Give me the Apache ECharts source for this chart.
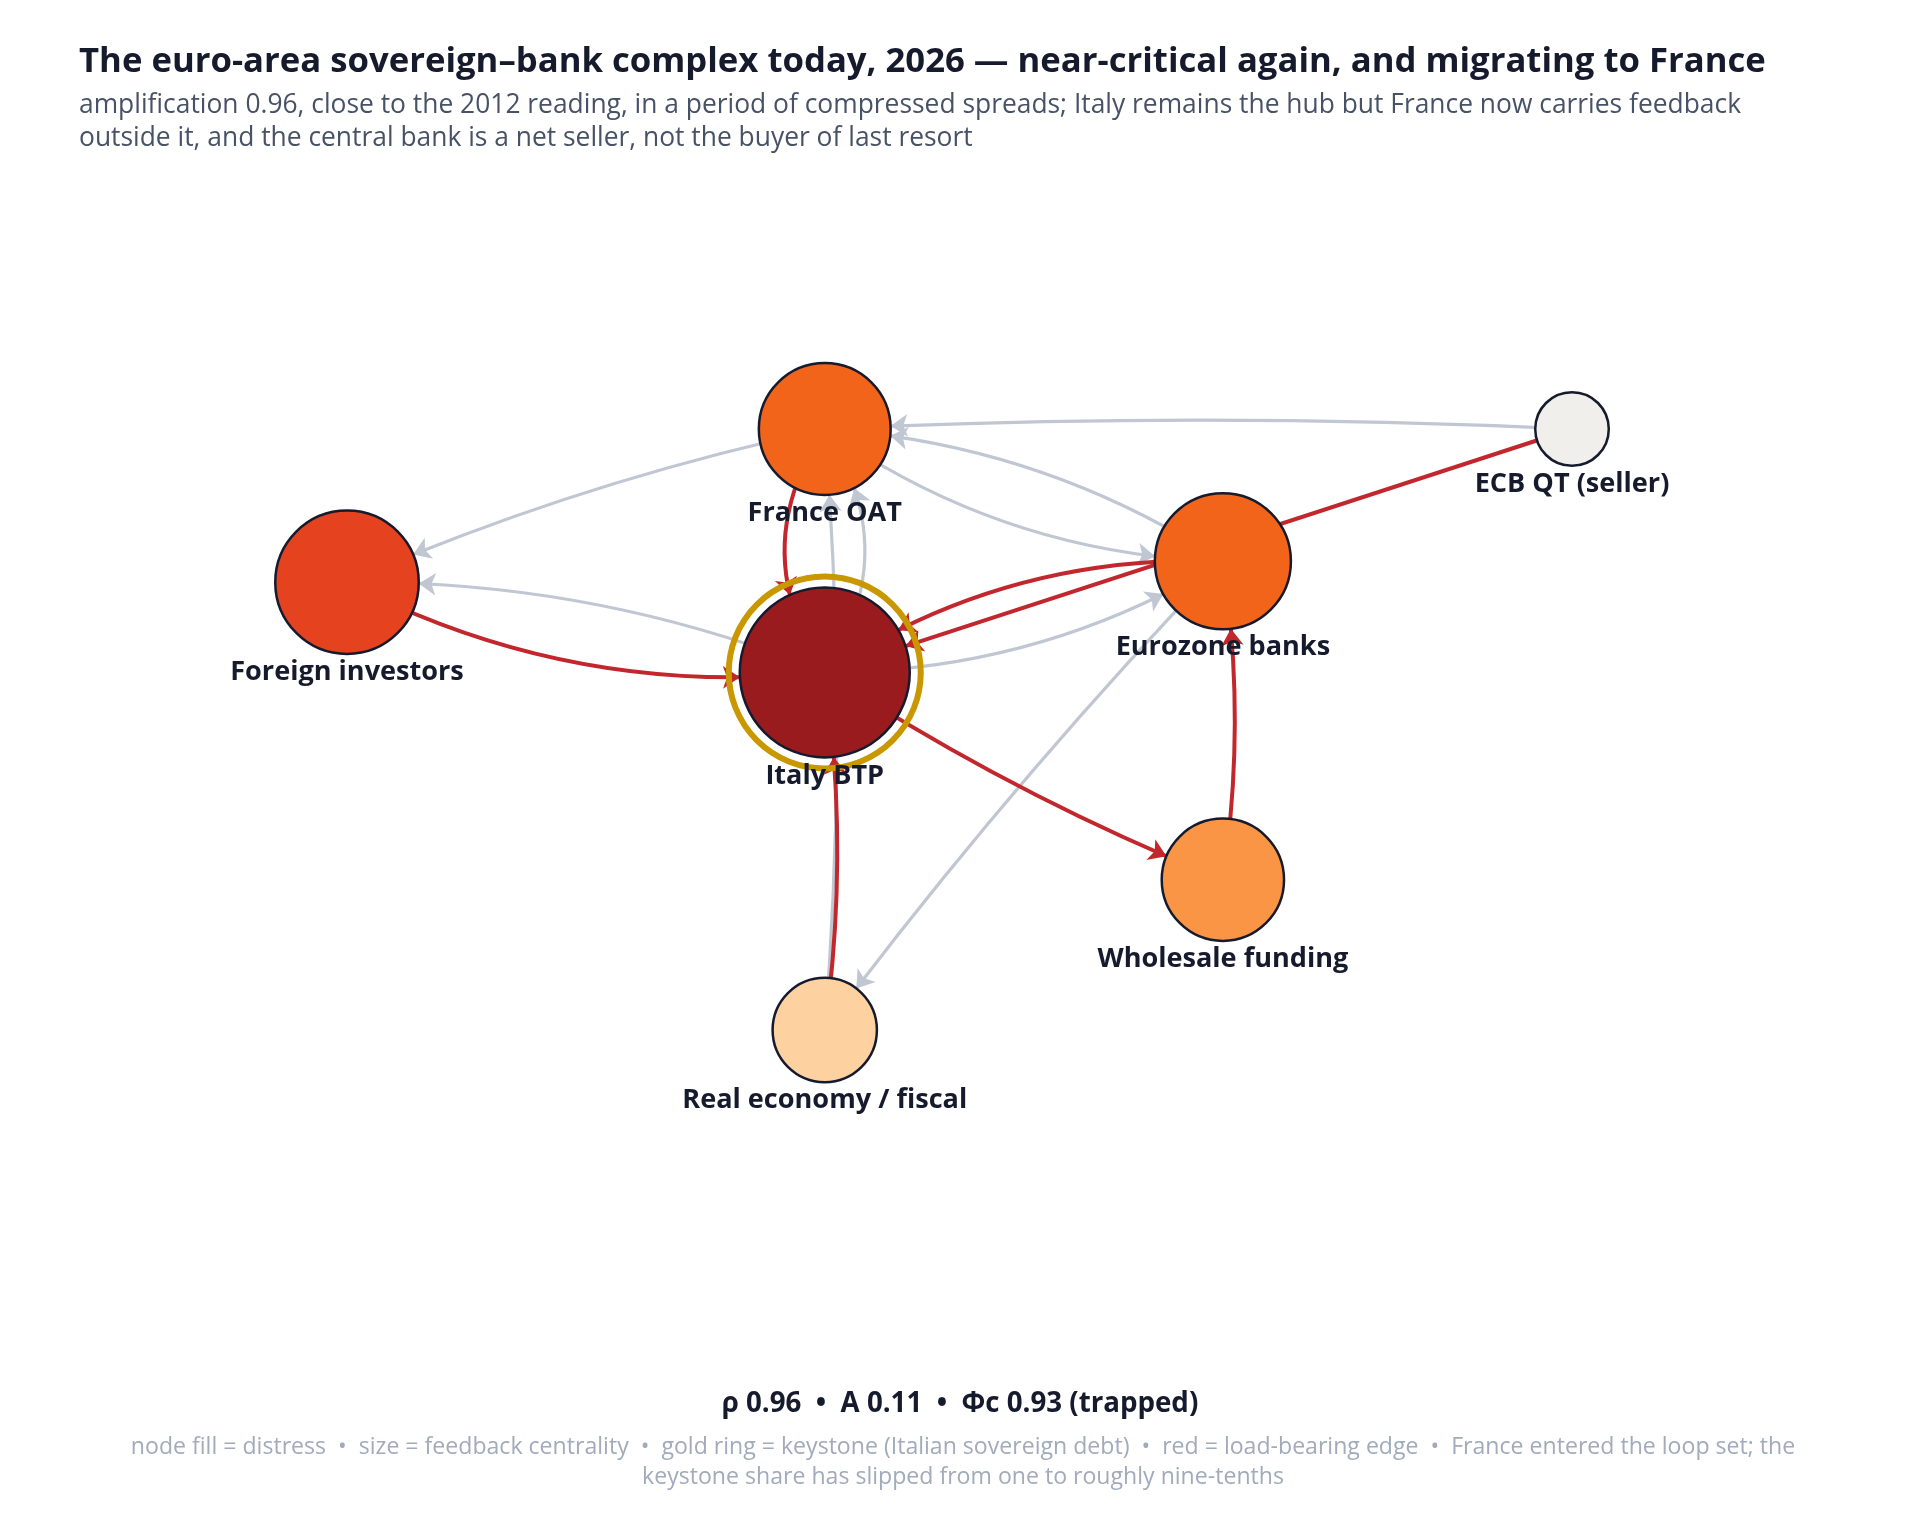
<!DOCTYPE html>
<html>
	<head>
		<meta charset="utf-8">
		<title>sovereign-bank complex 2026</title>
		<script src="https://cdn.jsdelivr.net/npm/echarts@6/dist/echarts.min.js"></script>
		<style>
			html, body { margin: 0; padding: 0; background: #fff; }
			#box { width: 1920px; height: 1514px; }
		</style>
	</head>
	<body>
		<div id="box"></div>
		<script>
			var mCharts = echarts.init(document.querySelector('#box'))

			// nodes
			var nodeNames = ['France OAT', 'Foreign investors', 'Italy BTP', 'Eurozone banks', 'ECB QT (seller)', 'Wholesale funding', 'Real economy / fiscal']
			// layout coordinates (hand placed, -1..1)
			var layoutX = [-0.22, -1, -0.22, 0.43, 1, 0.43, -0.22]
			var layoutY = [1, 0.49, 0.19, 0.56, 1, -0.5, -1]
			// distress 0..1 -> fill, feedback centrality 0..1 -> size
			var distress = [0.6, 0.8, 1.0, 0.6, 0.0, 0.4, 0.2]
			var centrality = [0.64, 0.75, 1.0, 0.68, 0.09, 0.55, 0.38]
			var keystone = 'Italy BTP'

			// edges: source, target, load-bearing (1 = red)
			var edgeFrom = ['France OAT', 'Italy BTP', 'Foreign investors', 'France OAT', 'Italy BTP', 'Real economy / fiscal', 'Real economy / fiscal', 'ECB QT (seller)', 'Eurozone banks', 'France OAT', 'ECB QT (seller)', 'Eurozone banks', 'Italy BTP', 'Eurozone banks', 'Italy BTP', 'Wholesale funding']
			var edgeTo = ['Foreign investors', 'Foreign investors', 'Italy BTP', 'Italy BTP', 'France OAT', 'France OAT', 'Italy BTP', 'France OAT', 'France OAT', 'Eurozone banks', 'Italy BTP', 'Italy BTP', 'Eurozone banks', 'Real economy / fiscal', 'Wholesale funding', 'Eurozone banks']
			var edgeLoad = [0, 0, 1, 1, 0, 0, 1, 0, 0, 0, 1, 1, 0, 0, 1, 1]
			// how much each edge bends (drawing only)
			var edgeBend = [-0.05, -0.1, -0.15, -0.33, -0.33, -0.04, -0.07, -0.024, -0.13, -0.15, 0, -0.16, -0.14, -0.03, -0.05, -0.075]

			var titleText = 'The euro-area sovereign–bank complex today, 2026 — near-critical again, and migrating to France'
			var subLines = [
				'amplification 0.96, close to the 2012 reading, in a period of compressed spreads; Italy remains the hub but France now carries feedback',
				'outside it, and the central bank is a net seller, not the buyer of last resort'
			]
			var statsText = 'ρ 0.96  •  A 0.11  •  Φc 0.93 (trapped)'
			var noteLines = [
				'node fill = distress  •  size = feedback centrality  •  gold ring = keystone (Italian sovereign debt)  •  red = load-bearing edge  •  France entered the loop set; the',
				'keystone share has slipped from one to roughly nine-tenths'
			]

			var ramp = ['#f0efec', '#fdd1a0', '#f99545', '#f26419', '#e5421f', '#9a1b1e']
			var ink = '#151a2d'
			var font = 'Open Sans'

			// size a font so a line takes the same width as in the source figure
			var ctx = document.createElement('canvas').getContext('2d')
			function fitSize(text, weight, width) {
				ctx.font = weight + ' 100px "' + font + '"'
				return Math.round(1000 * width / ctx.measureText(text).width) / 10
			}
			var titleSize = fitSize(titleText, 'bold', 1685)
			var subSize = fitSize(subLines[0], 'normal', 1662)
			var statsSize = fitSize(statsText, 'bold', 477)
			var noteSize = fitSize(noteLines[0], 'normal', 1662)
			var labelSize = fitSize('Foreign investors', 'bold', 234)

			function nodeSize(c) {
				return 64 + 106 * c
			}

			var graphNodes = nodeNames.map(function(name, i) {
				return {
					name: name,
					value: [layoutX[i], layoutY[i]],
					symbolSize: nodeSize(centrality[i]),
					itemStyle: { color: echarts.color.lerp(distress[i], ramp) }
				}
			})

			var graphLinks = edgeFrom.map(function(s, i) {
				var red = edgeLoad[i] === 1
				return {
					source: s,
					target: edgeTo[i],
					lineStyle: {
						color: red ? '#c1272d' : '#c0c7d3',
						width: red ? 4 : 3.2,
						curveness: edgeBend[i]
					}
				}
			})

			var k = nodeNames.indexOf(keystone)

			var option = {
				animation: false,
				backgroundColor: '#ffffff',
				title: [
					{
						text: titleText,
						left: 74,
						top: 35,
						textStyle: { fontFamily: font, fontSize: titleSize, fontWeight: 'bold', color: ink, lineHeight: 44 }
					},
					{
						text: subLines.join('\n'),
						left: 74,
						top: 84,
						textStyle: { fontFamily: font, fontSize: subSize, fontWeight: 'normal', color: '#485266', lineHeight: 33 }
					},
					{
						text: statsText,
						left: 'center',
						top: 1382,
						textStyle: { fontFamily: font, fontSize: statsSize, fontWeight: 'bold', color: ink, lineHeight: 34 }
					},
					{
						text: noteLines.join('\n'),
						left: 958,
						top: 1427,
						textAlign: 'center',
						textStyle: { fontFamily: font, fontSize: noteSize, fontWeight: 'normal', color: '#a1abbb', lineHeight: 30 }
					}
				],
				grid: { left: 347, right: 348, top: 429, bottom: 484 },
				xAxis: { type: 'value', min: -1, max: 1, show: false },
				yAxis: { type: 'value', min: -1, max: 1, show: false },
				series: [
					{
						type: 'graph',
						coordinateSystem: 'cartesian2d',
						z: 2,
						data: graphNodes,
						links: graphLinks,
						edgeSymbol: ['none', 'arrow'],
						edgeSymbolSize: 17,
						itemStyle: { borderColor: ink, borderWidth: 2.5, opacity: 1 },
						label: { show: false },
						lineStyle: { opacity: 1 },
						emphasis: { disabled: true }
					},
					{
						// keystone ring
						type: 'scatter',
						z: 3,
						data: [[layoutX[k], layoutY[k]]],
						symbol: 'circle',
						symbolSize: nodeSize(centrality[k]) + 22,
						itemStyle: { color: 'rgba(0,0,0,0)', borderColor: '#c99700', borderWidth: 6, opacity: 1 },
						emphasis: { disabled: true },
						silent: true
					},
					{
						// node names on top of everything
						type: 'scatter',
						z: 5,
						data: nodeNames.map(function(name, i) {
							return { name: name, value: [layoutX[i], layoutY[i]], symbolSize: nodeSize(centrality[i]) }
						}),
						itemStyle: { color: 'rgba(0,0,0,0)', opacity: 1 },
						label: {
							show: true,
							position: 'bottom',
							distance: 5,
							formatter: '{b}',
							fontFamily: font,
							fontSize: labelSize,
							fontWeight: 'bold',
							color: ink
						},
						emphasis: { disabled: true },
						silent: true
					}
				]
			}
			mCharts.setOption(option)
		</script>
	</body>
</html>
